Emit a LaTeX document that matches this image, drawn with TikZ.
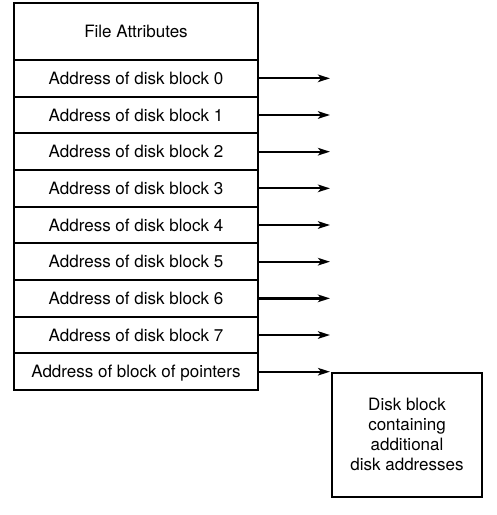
\documentclass[tikz,border=0pt]{standalone}
\usepackage{fontspec}
\setmainfont{TeX Gyre Heros}
\usetikzlibrary{arrows.meta,positioning}

\begin{document}
\begin{tikzpicture}[x=1pt, y=-1pt,
    cell/.style={draw, line width=2pt, minimum width=244pt, minimum height=36.67pt,
        inner sep=0pt, outer sep=0pt, text height=12.2pt, text depth=0pt,
        font=\fontsize{17}{20.2}\selectfont},
    diskbox/.style={draw, line width=2pt, minimum width=150pt, minimum height=124pt,
        inner sep=0pt, outer sep=0pt, align=center,
        font=\fontsize{17}{20.2}\selectfont},
    ptrarrow/.style={line width=2.3pt, -{Stealth[length=12pt,width=7.5pt,inset=3pt]}}]
                        \useasboundingbox (0,0) rectangle (497,515);

                        % i-node table
                        \node[cell, minimum height=57pt] (attr) at (136,31.5) {File Attributes};
                        \node[cell, below=0pt of attr] (b0) {Address of disk block 0};
                        \foreach \i [count=\j from 0] in {1,...,7}
                            \node[cell, below=0pt of b\j] (b\i) {Address of disk block \i};
                        \node[cell, below=0pt of b7] (ptr) {Address of block of pointers};

                        % indirect block
                        \node[diskbox, anchor=north west] (disk) at (332,372.5)
                            {Disk block\\containing\\additional\\disk addresses};

                        % pointers to the data blocks
                        \foreach \i in {0,...,7} {
                            \coordinate (e\i) at ([xshift=72pt]b\i.east);
                            \draw[ptrarrow] (b\i.east) -- (e\i);
                        }
                        \draw[ptrarrow, shorten >=2pt] (ptr.east) -- (ptr.east -| disk.west);
                    \end{tikzpicture}
\end{document}
